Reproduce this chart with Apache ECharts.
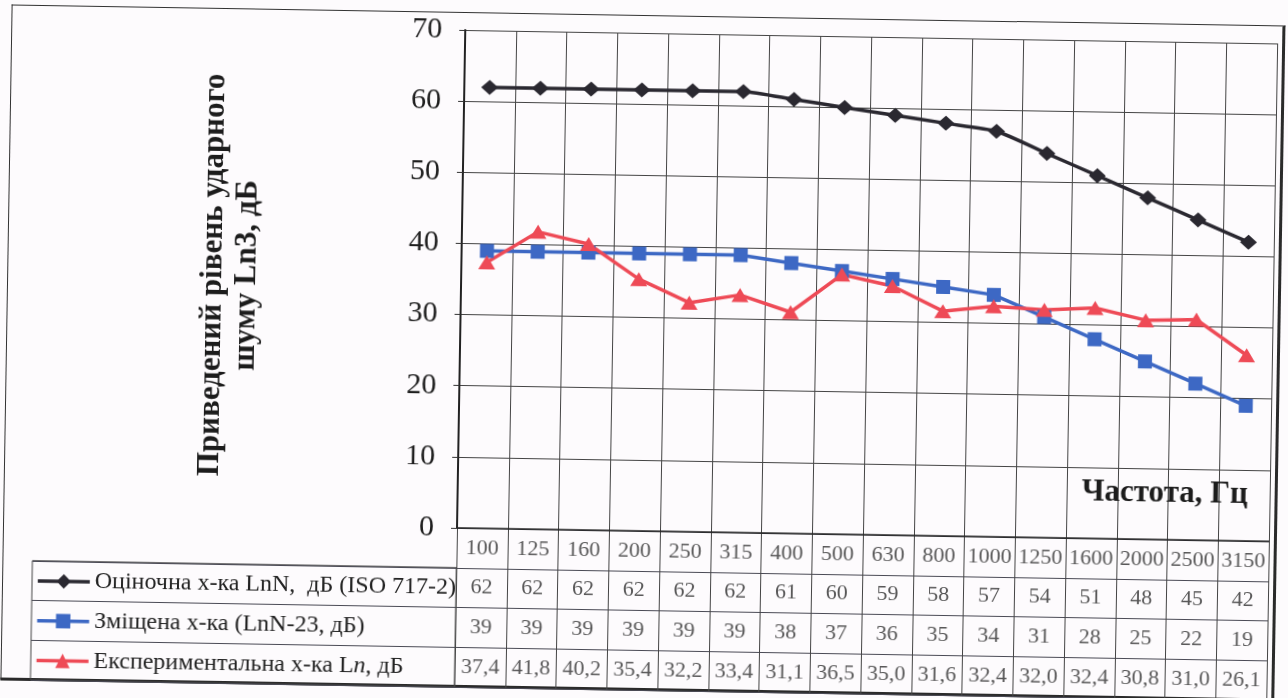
<!DOCTYPE html>
<html>
<head>
<meta charset="utf-8">
<script src="https://cdn.jsdelivr.net/npm/echarts@6/dist/echarts.min.js"></script>
<style>
  html, body { margin: 0; padding: 0; background: #fdfbfd; overflow: hidden; }
  #wrap { position: absolute; left: 0; top: 0; width: 1288px; height: 698px; transform: rotate(0.95deg); transform-origin: 644px 349px; }
  #frame { position: absolute; left: 6px; top: 15px; width: 1270px; height: 672px; border-left: 1.5px solid #333; border-top: 1.5px solid #333; border-right: 3px solid #2a2a2a; border-bottom: 3px solid #2a2a2a; }
  #chart { position: absolute; left: 0; top: 0; width: 1288px; height: 698px; }
</style>
</head>
<body>
<div id="wrap">
  <div id="frame"></div>
  <div id="chart"></div>
</div>
<script>
const categories = ['100','125','160','200','250','315','400','500','630','800','1000','1250','1600','2000','2500','3150'];
const ratedLnN = [62,62,62,62,62,62,61,60,59,58,57,54,51,48,45,42];
const shiftedLnN = [39,39,39,39,39,39,38,37,36,35,34,31,28,25,22,19];
const experimentalLn = [37.4,41.8,40.2,35.4,32.2,33.4,31.1,36.5,35.0,31.6,32.4,32.0,32.4,30.8,31.0,26.1];
const seriesNames = ['Оціночна х-ка LnN,  дБ (ISO 717-2)', 'Зміщена х-ка (LnN-23, дБ)', 'Експериментальна х-ка Ln, дБ'];
const yAxisTitle = 'Приведений рівень ударного\nшуму Ln3, дБ';
const xAxisTitle = 'Частота, Гц';
const tableRows = ['hdr', 'r0', 'r1', 'r2'];

const FONT = 'Liberation Serif';
const fmtInt = v => String(v);
const fmtDec = v => v.toFixed(1).replace('.', ',');

const tableData = [];
categories.forEach((c, i) => {
  tableData.push([i, 'hdr', c]);
  tableData.push([i, 'r0', fmtInt(ratedLnN[i])]);
  tableData.push([i, 'r1', fmtInt(shiftedLnN[i])]);
  tableData.push([i, 'r2', fmtDec(experimentalLn[i])]);
});

const gridLine = { show: true, lineStyle: { color: '#444', width: 1 } };

const chart = echarts.init(document.getElementById('chart'), null, { renderer: 'canvas' });
chart.setOption({
  animation: false,
  backgroundColor: 'transparent',
  title: {
    text: xAxisTitle, left: 1084, top: 469, padding: 0,
    textStyle: { fontFamily: FONT, fontSize: 31, fontWeight: 'bold', color: '#1c1c1c' }
  },
  legend: {
    orient: 'vertical', left: 40, top: 579, padding: 0,
    itemWidth: 52, itemHeight: 18, itemGap: 15.75,
    data: seriesNames,
    lineStyle: { width: 3.5 },
    formatter: function (name) {
      if (name === seriesNames[2]) return 'Експериментальна х-ка L{i|n}, дБ';
      return name;
    },
    textStyle: {
      fontFamily: FONT, fontSize: 24, lineHeight: 24, color: '#222',
      rich: { i: { fontFamily: FONT, fontSize: 24, fontStyle: 'italic', color: '#222' } }
    }
  },
  grid: [
    { left: 460, right: 16, top: 33, bottom: 167 },
    { left: 460, right: 16, top: 531, bottom: 8 },
    { left: 36, width: 424, top: 570.75, bottom: 8, show: true, borderColor: '#444', borderWidth: 1, backgroundColor: 'transparent' }
  ],
  xAxis: [
    { type: 'category', gridIndex: 0, data: categories, boundaryGap: true,
      axisLabel: { show: false }, axisTick: { show: false },
      axisLine: { show: true, lineStyle: { color: '#222', width: 1.5 } },
      splitLine: gridLine },
    { type: 'category', gridIndex: 1, data: categories, boundaryGap: true,
      axisLabel: { show: false }, axisTick: { show: false }, axisLine: { show: false },
      splitLine: gridLine },
    { type: 'value', gridIndex: 2, show: false }
  ],
  yAxis: [
    { type: 'value', gridIndex: 0, min: 0, max: 70, interval: 10,
      name: yAxisTitle, nameLocation: 'middle', nameRotate: 90, nameGap: 197,
      nameTextStyle: { fontFamily: FONT, fontSize: 31, fontWeight: 'bold', lineHeight: 34, color: '#1c1c1c', align: 'center' },
      axisLine: { show: true, lineStyle: { color: '#222', width: 2 } },
      axisTick: { show: true, length: 6, lineStyle: { color: '#333' } },
      axisLabel: { fontFamily: FONT, fontSize: 30, color: '#1e1e1e', margin: 23 },
      splitLine: gridLine },
    { type: 'category', gridIndex: 1, data: tableRows, inverse: true,
      axisLabel: { show: false }, axisTick: { show: false }, axisLine: { show: false },
      splitLine: { show: true, lineStyle: { color: '#4a4a55', width: 1 } } },
    { type: 'category', gridIndex: 2, data: ['r0', 'r1', 'r2'], inverse: true,
      axisLabel: { show: false }, axisTick: { show: false }, axisLine: { show: false },
      splitLine: { show: true, lineStyle: { color: '#4a4a55', width: 1 } } }
  ],
  series: [
    { name: seriesNames[0], type: 'line', xAxisIndex: 0, yAxisIndex: 0, data: ratedLnN,
      smooth: 0.2, symbol: 'diamond', symbolSize: [17, 15],
      lineStyle: { color: '#2a2830', width: 3.5 }, itemStyle: { color: '#2a2830' } },
    { name: seriesNames[1], type: 'line', xAxisIndex: 0, yAxisIndex: 0, data: shiftedLnN,
      symbol: 'rect', symbolSize: 14,
      lineStyle: { color: '#3d68c4', width: 3.5 }, itemStyle: { color: '#3d68c4' } },
    { name: seriesNames[2], type: 'line', xAxisIndex: 0, yAxisIndex: 0, data: experimentalLn,
      symbol: 'triangle', symbolSize: [17, 14],
      lineStyle: { color: '#ee4a56', width: 3.5 }, itemStyle: { color: '#ee4a56' } },
    { name: 'table', type: 'scatter', xAxisIndex: 1, yAxisIndex: 1, data: tableData,
      symbolSize: 0.1, itemStyle: { color: 'transparent' }, silent: true,
      label: { show: true, position: 'inside', formatter: p => p.value[2],
               fontFamily: FONT, fontSize: 22, color: '#2e2e2e' } }
  ]
});
</script>
</body>
</html>
